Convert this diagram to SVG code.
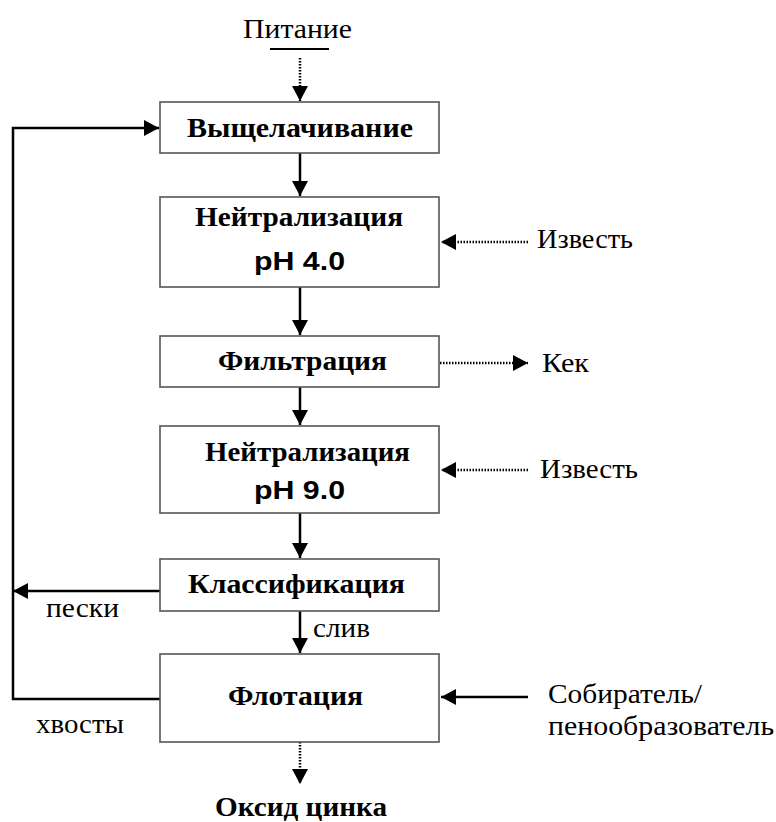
<svg xmlns="http://www.w3.org/2000/svg" width="776" height="822" viewBox="0 0 776 822">
<defs>
<style>
.box{fill:#fff;stroke:#555;stroke-width:1.6}
.t{font-family:"Liberation Serif",serif;font-size:27px;fill:#000}
.b{font-family:"Liberation Serif",serif;font-size:27px;font-weight:bold;fill:#000}
.a{font-family:"Liberation Sans",sans-serif;font-size:25px;font-weight:bold;fill:#000}
.ln{fill:none;stroke:#000;stroke-width:2.5}
.dt{fill:none;stroke:#000;stroke-width:2.5;stroke-dasharray:1.5 1.5}
</style>
<marker id="ah" viewBox="0 0 15 16" refX="15" refY="8" markerWidth="15" markerHeight="16" markerUnits="userSpaceOnUse" orient="auto">
<path d="M0,0 L15,8 L0,16 Z" fill="#000"/>
</marker>
</defs>
<rect width="776" height="822" fill="#fff"/>
<g id="connectors">
<line x1="270" y1="49" x2="329" y2="49" stroke="#000" stroke-width="2"/>
<line class="dt" x1="300" y1="58" x2="300" y2="101" marker-end="url(#ah)"/>
<line class="ln" x1="300" y1="153" x2="300" y2="196" marker-end="url(#ah)"/>
<line class="ln" x1="300" y1="287" x2="300" y2="335" marker-end="url(#ah)"/>
<line class="ln" x1="300" y1="387" x2="300" y2="425" marker-end="url(#ah)"/>
<line class="ln" x1="300" y1="513" x2="300" y2="558" marker-end="url(#ah)"/>
<line class="ln" x1="300" y1="611" x2="300" y2="653" marker-end="url(#ah)"/>
<line class="dt" x1="300" y1="742" x2="300" y2="784" marker-end="url(#ah)"/>
<line class="dt" x1="528" y1="242" x2="441" y2="242" marker-end="url(#ah)"/>
<line class="dt" x1="440" y1="363" x2="528" y2="363" marker-end="url(#ah)"/>
<line class="dt" x1="528" y1="470" x2="441" y2="470" marker-end="url(#ah)"/>
<line class="ln" x1="528" y1="697" x2="441" y2="697" marker-end="url(#ah)"/>
<line class="ln" x1="160" y1="591" x2="13" y2="591" marker-end="url(#ah)"/>
<polyline class="ln" points="160,699 13,699 13,128 159,128" marker-end="url(#ah)"/>
</g>
<g id="n-feed"><text class="t" x="243" y="38" textLength="109" lengthAdjust="spacingAndGlyphs">Питание</text></g>
<g id="n-leach">
<rect class="box" x="160" y="102" width="279" height="51"/>
<text class="b" x="187" y="137" textLength="226" lengthAdjust="spacingAndGlyphs">Выщелачивание</text>
</g>
<g id="n-neut1">
<rect class="box" x="160" y="197" width="279" height="90"/>
<text class="b" x="195" y="226" textLength="208" lengthAdjust="spacingAndGlyphs">Нейтрализация</text>
<text class="a" x="254" y="270" textLength="91" lengthAdjust="spacingAndGlyphs">pH 4.0</text>
</g>
<g id="n-filt">
<rect class="box" x="160" y="336" width="279" height="51"/>
<text class="b" x="218" y="370" textLength="169" lengthAdjust="spacingAndGlyphs">Фильтрация</text>
</g>
<g id="n-neut2">
<rect class="box" x="160" y="426" width="279" height="87"/>
<text class="b" x="205" y="461" textLength="205" lengthAdjust="spacingAndGlyphs">Нейтрализация</text>
<text class="a" x="254" y="499" textLength="91" lengthAdjust="spacingAndGlyphs">pH 9.0</text>
</g>
<g id="n-class">
<rect class="box" x="160" y="559" width="279" height="52"/>
<text class="b" x="188" y="593" textLength="217" lengthAdjust="spacingAndGlyphs">Классификация</text>
</g>
<g id="n-flot">
<rect class="box" x="160" y="654" width="279" height="88"/>
<text class="b" x="228" y="705" textLength="135" lengthAdjust="spacingAndGlyphs">Флотация</text>
</g>
<g id="n-lime1"><text class="t" x="537" y="248" textLength="96" lengthAdjust="spacingAndGlyphs">Известь</text></g>
<g id="n-cake"><text class="t" x="542" y="372" textLength="47" lengthAdjust="spacingAndGlyphs">Кек</text></g>
<g id="n-lime2"><text class="t" x="540" y="478" textLength="98" lengthAdjust="spacingAndGlyphs">Известь</text></g>
<g id="n-reag"><text class="t" x="548" y="703" textLength="154" lengthAdjust="spacingAndGlyphs">Собиратель/</text><text class="t" x="548" y="735" textLength="226" lengthAdjust="spacingAndGlyphs">пенообразователь</text></g>
<g id="n-zno"><text class="b" x="215" y="816" textLength="172" lengthAdjust="spacingAndGlyphs">Оксид цинка</text></g>
<text class="t" x="46" y="617" textLength="73" lengthAdjust="spacingAndGlyphs">пески</text>
<text class="t" x="313" y="637" textLength="57" lengthAdjust="spacingAndGlyphs">слив</text>
<text class="t" x="36" y="733" textLength="88" lengthAdjust="spacingAndGlyphs">хвосты</text>
</svg>
